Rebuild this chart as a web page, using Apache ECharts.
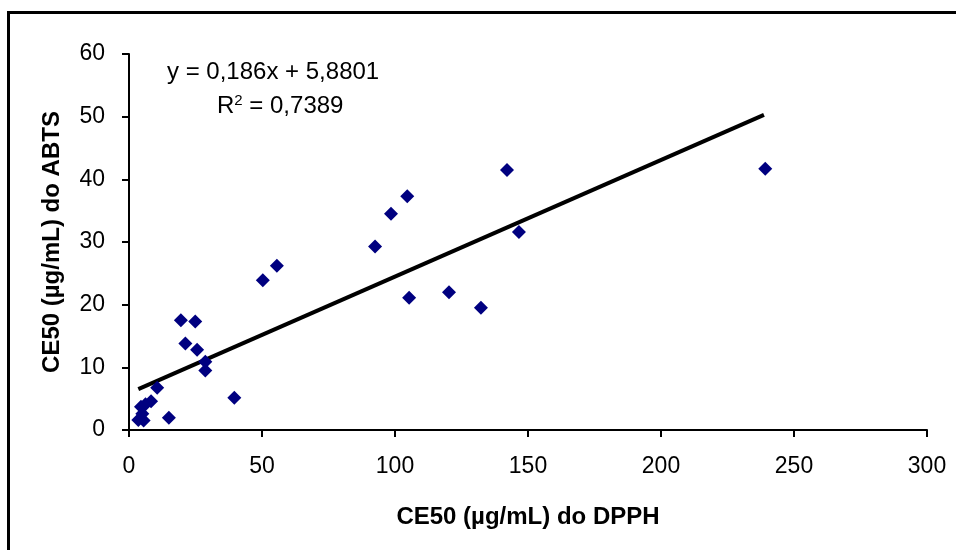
<!DOCTYPE html>
<html>
<head>
<meta charset="utf-8">
<script src="https://cdn.jsdelivr.net/npm/echarts@6/dist/echarts.min.js"></script>
<style>
  html, body { margin: 0; padding: 0; background: #fff; }
  #chart { width: 956px; height: 550px; }
</style>
</head>
<body>
<div id="chart"></div>
<script>
// CE50 DPPH (x) vs CE50 ABTS (y)
const dpph = [3.5, 5.5, 5.0, 4.5, 6.2, 8.3, 10.6, 15.0, 19.5, 24.9, 21.2, 25.6, 28.7, 28.7,
  39.6, 50.3, 55.6, 92.5, 98.5, 104.6, 105.3, 120.3, 132.3, 142.1, 146.6, 239.2];
const abts = [1.6, 1.5, 2.6, 3.7, 4.1, 4.6, 6.75, 1.96, 17.5, 17.3, 13.8, 12.8, 10.9, 9.5,
  5.15, 23.9, 26.2, 29.3, 34.5, 37.3, 21.1, 22.0, 19.5, 41.5, 31.6, 41.7];

// linear trend shown on the chart
const slope = 0.186;
const intercept = 5.8801;
const trendX = [3.5, 238.7];
const equationText = "y = 0,186x + 5,8801";
const r2Text = "0,7389";

const xTicks = { min: 0, max: 300, interval: 50 };
const yTicks = { min: 0, max: 60, interval: 10 };

const points = dpph.map((x, i) => [x, abts[i]]);
const trend = trendX.map(x => [x, slope * x + intercept]);

const chart = echarts.init(document.getElementById("chart"));
const font = "'Liberation Sans', Arial, sans-serif";

const option = {
  animation: false,
  backgroundColor: "#fff",
  grid: { left: 129, right: 29, top: 54, bottom: 120 },
  xAxis: {
    type: "value",
    min: xTicks.min, max: xTicks.max, interval: xTicks.interval,
    name: "CE50 (µg/mL) do DPPH",
    nameLocation: "middle",
    nameGap: 75,
    nameTextStyle: { fontFamily: font, fontSize: 24, fontWeight: "bold", color: "#000" },
    axisLine: { lineStyle: { color: "#000", width: 2 } },
    axisTick: { inside: false, length: 7, lineStyle: { color: "#000", width: 2 } },
    axisLabel: { margin: 25, fontFamily: font, fontSize: 23, color: "#000" },
    splitLine: { show: false }
  },
  yAxis: {
    type: "value",
    min: yTicks.min, max: yTicks.max, interval: yTicks.interval,
    name: "CE50 (µg/mL) do ABTS",
    nameLocation: "middle",
    nameGap: 65,
    nameTextStyle: { fontFamily: font, fontSize: 24, fontWeight: "bold", color: "#000" },
    axisLine: { show: true, lineStyle: { color: "#000", width: 2 } },
    axisTick: { show: true, inside: false, length: 7, lineStyle: { color: "#000", width: 2 } },
    axisLabel: { margin: 24, fontFamily: font, fontSize: 23, color: "#000" },
    splitLine: { show: false }
  },
  graphic: [
    {
      type: "rect",
      left: 6, top: 10,
      shape: { width: 980, height: 600 },
      style: { fill: "none", stroke: "#000", lineWidth: 3 },
      silent: true
    },
    {
      type: "text",
      left: 167, top: 60,
      style: { text: equationText, font: "24px " + font, fill: "#000" }
    },
    {
      type: "text",
      left: 217, top: 93,
      style: {
        text: "R{sup|2} = " + r2Text,
        font: "24px " + font,
        fill: "#000",
        rich: { sup: { fontSize: 15, fontFamily: font, verticalAlign: "top", padding: [0, 0, 12, 0] } }
      }
    }
  ],
  series: [
    {
      type: "line",
      data: trend,
      showSymbol: false,
      lineStyle: { color: "#000", width: 4 },
      z: 3
    },
    {
      type: "scatter",
      data: points,
      symbol: "diamond",
      symbolSize: 14,
      itemStyle: { color: "#000080", opacity: 1 },
      z: 4
    }
  ]
};

chart.setOption(option);
</script>
</body>
</html>
